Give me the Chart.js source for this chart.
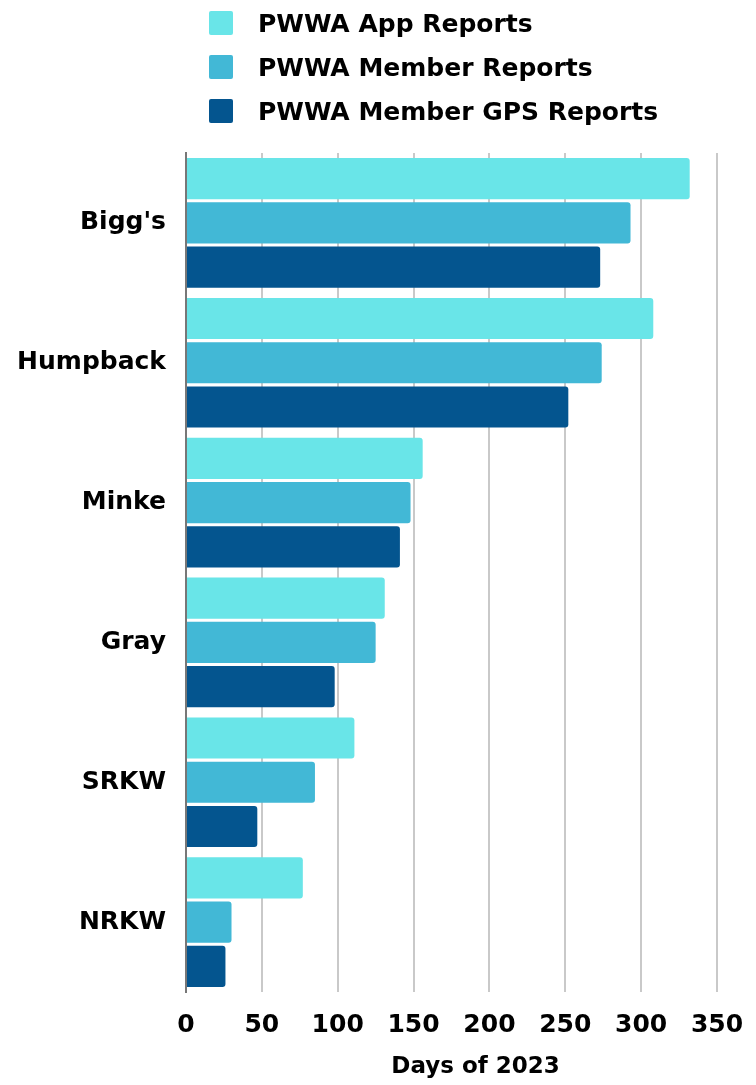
<!DOCTYPE html>
<html>
<head>
<meta charset="utf-8">
<script src="https://cdn.jsdelivr.net/npm/chart.js@4.4.1/dist/chart.umd.min.js"></script>
<style>
  html, body { margin: 0; padding: 0; background: #fff; }
  #wrap { position: relative; width: 756px; height: 1085px; }
  #legend {
    position: absolute; left: 209px; top: 1px; margin: 0; padding: 0; list-style: none;
    font-family: "DejaVu Sans", sans-serif; font-weight: 700; font-size: 25px; color: #000;
  }
  #legend li { display: flex; align-items: center; height: 44px; }
  #legend .box { width: 24px; height: 24px; border-radius: 2px; margin-right: 25px; }
</style>
</head>
<body>
<div id="wrap">
  <ul id="legend"></ul>
  <canvas id="whaleChart" width="756" height="1085"></canvas>
</div>
<script>
// Days of 2023 with sightings, by whale type and report source
const categories    = ["Bigg's", "Humpback", "Minke", "Gray", "SRKW", "NRKW"];
const seriesNames   = ["PWWA App Reports", "PWWA Member Reports", "PWWA Member GPS Reports"];
const appReports    = [332, 308, 156, 131, 111, 77];
const memberReports = [293, 274, 148, 125, 85, 30];
const gpsReports    = [273, 252, 141, 98, 47, 26];
const xTicks        = [0, 50, 100, 150, 200, 250, 300, 350];

const colors = ["#69e5e8", "#42b8d6", "#04558f"];
const FONT = "'DejaVu Sans', sans-serif";

const chart = new Chart(document.getElementById("whaleChart"), {
    type: "bar",
    data: {
        labels: categories,
        datasets: [appReports, memberReports, gpsReports].map((vals, i) => ({
            label: seriesNames[i],
            data: vals,
            backgroundColor: colors[i],
            borderRadius: 3,
            borderSkipped: "start",
            categoryPercentage: 0.95,
            barPercentage: 0.93
        }))
    },
    options: {
        indexAxis: "y",
        responsive: false,
        animation: false,
        layout: { padding: { top: 153, right: 39, left: 0, bottom: 0 } },
        plugins: {
            legend: { display: false },
            tooltip: { enabled: false }
        },
        scales: {
            x: {
                min: 0,
                max: 350,
                afterBuildTicks(axis) { axis.ticks = xTicks.map(v => ({ value: v })); },
                afterFit(axis) { axis.height = 93; },
                // invisible tick marks push the labels down without widening the side padding
                grid: { color: "#c9c9c9", lineWidth: 2, drawTicks: true, tickLength: 8, tickColor: "rgba(0,0,0,0)" },
                border: { display: false },
                ticks: {
                    padding: 10,
                    color: "#000",
                    font: { family: FONT, size: 25, weight: "bold" }
                },
                title: {
                    display: true,
                    // leading spaces nudge the centred title right, as in the original
                    text: "      Days of 2023",
                    color: "#000",
                    padding: { top: 6 },
                    font: { family: FONT, size: 23, weight: "bold" }
                }
            },
            y: {
                afterFit(axis) { axis.width = 186; },
                grid: { display: false },
                border: { display: true, color: "#777", width: 2 },
                ticks: {
                    padding: 12,
                    color: "#000",
                    font: { family: FONT, size: 25, weight: "bold" }
                }
            }
        }
    }
});

// vertical legend built from the chart's datasets
const legend = document.getElementById("legend");
chart.data.datasets.forEach(ds => {
    const li = document.createElement("li");
    const box = document.createElement("span");
    box.className = "box";
    box.style.background = ds.backgroundColor;
    li.appendChild(box);
    li.appendChild(document.createTextNode(ds.label));
    legend.appendChild(li);
});
</script>
</body>
</html>
